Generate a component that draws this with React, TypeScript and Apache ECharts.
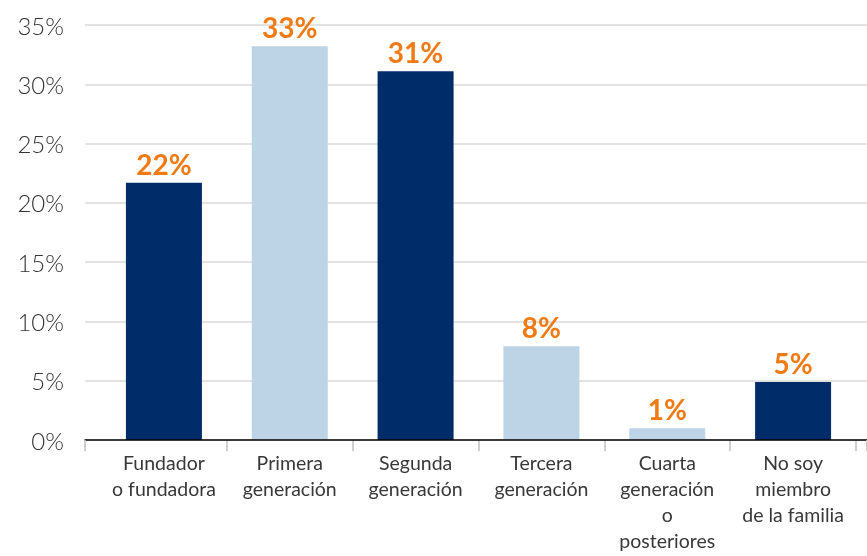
import React, { useEffect, useRef } from "react";
import * as echarts from "echarts";

const categories: string[] = [
  "Fundador\no fundadora",
  "Primera\ngeneración",
  "Segunda\ngeneración",
  "Tercera\ngeneración",
  "Cuarta\ngeneración\no\nposteriores",
  "No soy\nmiembro\nde la familia",
];
const values: number[] = [21.7, 33.2, 31.1, 7.9, 1.0, 4.9];
const barColors: string[] = ["#002D6A", "#BDD3E6", "#002D6A", "#BDD3E6", "#BDD3E6", "#002D6A"];
const yMin = 0;
const yMax = 35;
const yStep = 5;

export default function App() {
  const ref = useRef<HTMLDivElement>(null);
  useEffect(() => {
    if (!ref.current) return;
    const chart = echarts.init(ref.current, undefined, { renderer: "svg" });
    const font = "Lato, 'Open Sans', sans-serif";
    chart.setOption({
      animation: false,
      grid: [
        { left: 85, right: 0, top: 25, bottom: 116 },
        { left: 101, right: 11, top: 25, bottom: 116 },
      ],
      xAxis: [
        {
          type: "category",
          gridIndex: 0,
          data: [""],
          z: 5,
          axisLine: { show: true, lineStyle: { color: "#000", width: 1.5 } },
          axisTick: { show: true, length: 11, lineStyle: { color: "#BFBFBF", width: 1.5 } },
          axisLabel: { show: false },
        },
        {
          type: "category",
          gridIndex: 1,
          data: categories,
          axisLine: { show: false },
          axisTick: {
            show: true,
            length: 11,
            interval: (i: number) => i > 0,
            lineStyle: { color: "#BFBFBF", width: 1.5 },
          },
          axisLabel: {
            interval: 0,
            margin: 9,
            fontFamily: font,
            fontSize: 19.5,
            lineHeight: 26,
            color: "#383838",
          },
        },
      ],
      yAxis: [
        {
          type: "value",
          gridIndex: 0,
          min: yMin,
          max: yMax,
          interval: yStep,
          axisLine: { show: false },
          axisTick: { show: false },
          splitLine: { show: true, lineStyle: { color: "#D9D9D9", width: 1.5 } },
          axisLabel: {
            formatter: "{value}%",
            margin: 21,
            fontFamily: font,
            fontWeight: 300,
            fontSize: 24,
            color: "#333",
          },
        },
        {
          type: "value",
          gridIndex: 1,
          min: yMin,
          max: yMax,
          interval: yStep,
          show: false,
          splitLine: { show: false },
        },
      ],
      series: [
        {
          type: "bar",
          xAxisIndex: 1,
          yAxisIndex: 1,
          barWidth: 76,
          data: values.map((v, i) => ({ value: v, itemStyle: { color: barColors[i] } })),
          label: {
            show: true,
            position: "top",
            distance: 5,
            formatter: (p: any) => Math.round(p.value) + "%",
            fontFamily: font,
            fontWeight: "bold",
            fontSize: 28,
            color: "#F07A14",
          },
        },
      ],
    });
    return () => chart.dispose();
  }, []);
  return (
    <div
      ref={ref}
      style={{ position: "fixed", left: 0, top: 0, width: 867, height: 556 }}
    />
  );
}
